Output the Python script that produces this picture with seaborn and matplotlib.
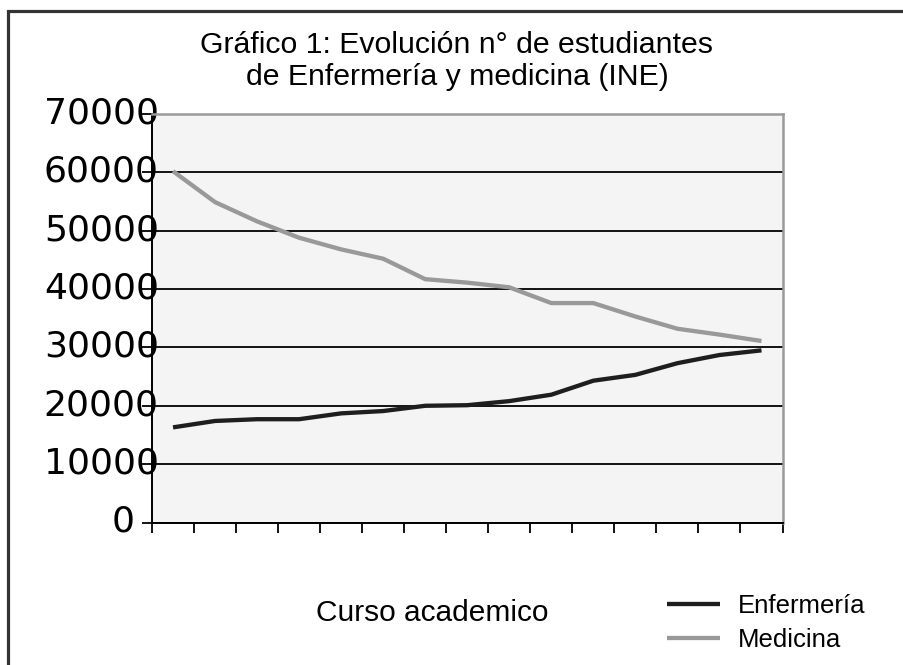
import matplotlib
matplotlib.use("Agg")
import matplotlib.pyplot as plt
import matplotlib.transforms as mtransforms
from matplotlib.patches import Rectangle
import numpy as np
import pandas as pd
import seaborn as sns

# Academic years (15 courses, labels not shown on the axis)
cursos = list(range(15))
enfermeria = [16300, 17400, 17700, 17700, 18700, 19100, 20000, 20100,
              20800, 21900, 24300, 25300, 27300, 28700, 29500]
medicina = [60200, 54900, 51600, 48800, 46800, 45200, 41700, 41100,
            40300, 37600, 37600, 35300, 33200, 32200, 31100]
series_names = ["Enfermería", "Medicina"]
series_colors = ["#1e1e1e", "#999999"]
y_ticks = [0, 10000, 20000, 30000, 40000, 50000, 60000, 70000]

df = pd.DataFrame({
    "curso": cursos * 2,
    "alumnos": enfermeria + medicina,
    "serie": [series_names[0]] * len(cursos) + [series_names[1]] * len(cursos),
})

sns.set_theme(style="white")
plt.rcParams["font.family"] = ["DejaVu Sans"]
plt.rcParams["text.color"] = "black"

W, H = 904, 665
fig = plt.figure(figsize=(W / 100, H / 100), dpi=100)
fig.patch.set_facecolor("white")

# plot area in pixel coordinates
left, right, top, bottom = 152, 782.5, 114, 522.5
ax = fig.add_axes([left / W, 1 - bottom / H, (right - left) / W, (bottom - top) / H])
ax.set_facecolor("#f4f4f4")

sns.lineplot(data=df, x="curso", y="alumnos", hue="serie",
             palette=dict(zip(series_names, series_colors)),
             linewidth=3.1, ax=ax, legend=True)
for line in ax.get_lines():
    line.set_solid_capstyle("butt")
    line.set_zorder(3)

ax.set_xlim(-0.5, len(cursos) - 0.5)
ax.set_ylim(0, 70000)
ax.set_xticks(np.arange(-0.5, len(cursos), 1.0))
ax.set_xticklabels([])
ax.set_yticks(y_ticks)
ax.set_yticklabels([str(v) for v in y_ticks])

ax.yaxis.grid(True, color="black", linewidth=1.3)
ax.xaxis.grid(False)
ax.set_axisbelow(True)

for side in ["left", "bottom"]:
    ax.spines[side].set_color("black")
    ax.spines[side].set_linewidth(1.4)
for side in ["top", "right"]:
    ax.spines[side].set_color("#9a9a9a")
    ax.spines[side].set_linewidth(1.8)

ax.tick_params(axis="x", direction="out", length=7.2, width=1.3, color="black",
               bottom=True)
ax.tick_params(axis="y", direction="out", length=7.2, width=1.3, color="black",
               left=True, labelsize=26, labelcolor="black", pad=5.2)

# nudge the value labels upward; the long ones reach over the axis line
for lab in ax.get_yticklabels():
    dx = 0.24 if len(lab.get_text()) > 1 else 0.0
    lab.set_transform(lab.get_transform() +
                      mtransforms.ScaledTranslation(dx, 0.04, fig.dpi_scale_trans))

ax.set_ylabel("")
ax.set_xlabel("Curso academico", fontsize=21.5, family="Liberation Sans", color="black")
ax.xaxis.label.set_va("center")
ax.xaxis.set_label_coords((432 - left) / (right - left), (bottom - 613) / (bottom - top))

fig.text(457 / W, 1 - 61 / H,
         "Gráfico 1: Evolución n° de estudiantes\nde Enfermería y medicina (INE)",
         ha="center", va="center", fontsize=21.8, family="Liberation Sans",
         color="black", linespacing=1.2)

handles, labels = ax.get_legend_handles_labels()
ax.legend(handles, labels, loc="upper left",
          bbox_to_anchor=(654 / W, 1 - 581 / H), bbox_transform=fig.transFigure,
          frameon=False, borderpad=0, handlelength=2.08, handletextpad=0.68,
          labelspacing=0.39, labelcolor="black",
          prop={"family": "Liberation Sans", "size": 18.5})

# outer frame (only top and left edges fall inside the canvas)
frame = Rectangle((7.5 / W, -0.2), 2.0, 1.2 - 11 / H, transform=fig.transFigure,
                  fill=False, edgecolor="#333333", linewidth=2.3, clip_on=False)
fig.add_artist(frame)

fig.savefig("out.png", dpi=100, facecolor="white")
